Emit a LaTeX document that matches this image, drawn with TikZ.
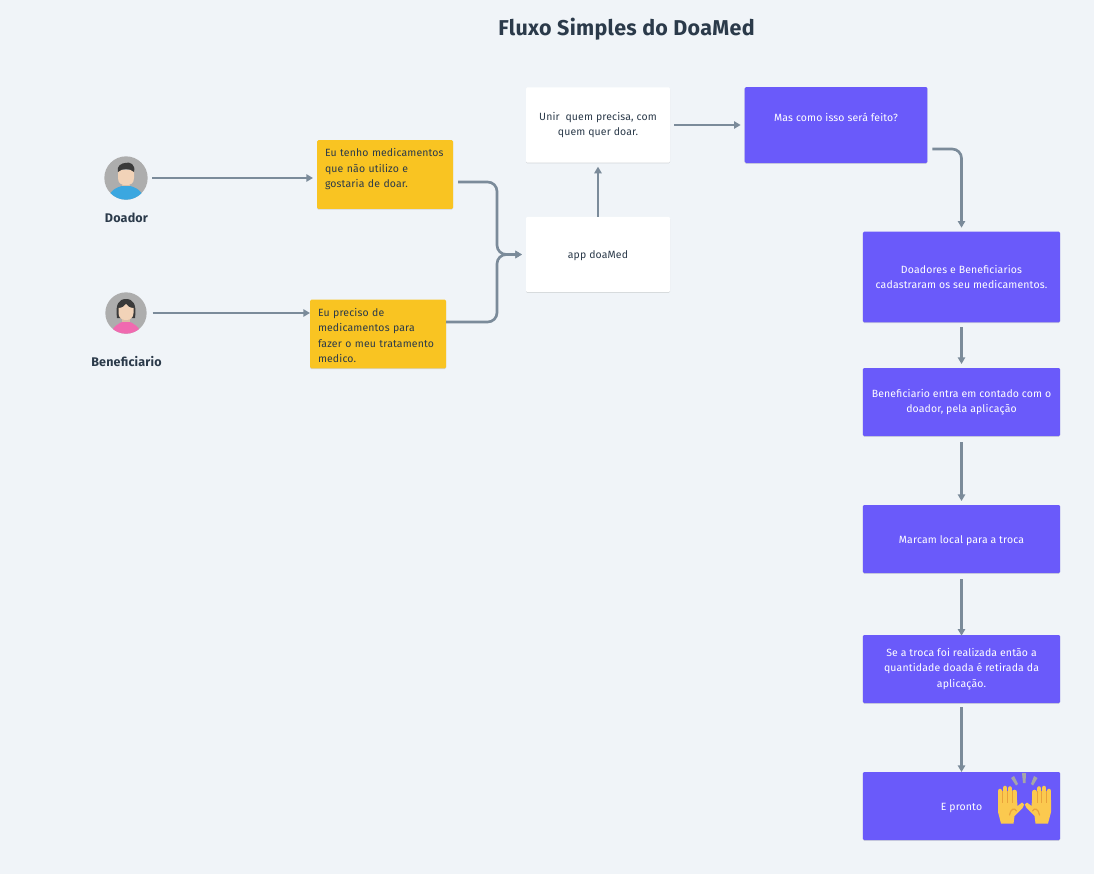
\documentclass[tikz,border=0pt]{standalone}
\usepackage{fontspec}
\setmainfont[LetterSpace=1.5]{Fira Sans}
\usetikzlibrary{arrows.meta,shadows,calc}
\definecolor{bgc}{HTML}{F0F4F8}
\definecolor{txtd}{HTML}{2B3A4A}
\definecolor{linec}{HTML}{7B8B9A}
\definecolor{purp}{HTML}{6A5AFA}
\definecolor{yel}{HTML}{F9C422}
\definecolor{hand}{HTML}{FBC94F}
\definecolor{handd}{HTML}{E9A23B}
\definecolor{skin}{HTML}{F2D3B8}
\definecolor{shirt}{HTML}{3BA7E0}
\definecolor{blouse}{HTML}{F06AB0}
\definecolor{hair}{HTML}{3A3A3A}
\tikzset{
  x=0.75pt,y=-0.75pt,
  px/.style={inner sep=0pt,outer sep=0pt},
  boxbase/.style={px,rectangle,rounded corners=1pt,align=center,font=\fontsize{7.85}{11.5}\selectfont,
    execute at begin node={\rule{0pt}{8.2pt}},
    drop shadow={shadow xshift=0pt,shadow yshift=-0.6pt,opacity=.12,fill=black}},
  purplebox/.style={boxbase,fill=purp,text=white,minimum width=148pt,minimum height=51pt},
  whitebox/.style={boxbase,fill=white,text=txtd,minimum width=108pt,minimum height=56.5pt},
  yellowbox/.style={boxbase,fill=yel,text=txtd,minimum width=102pt,minimum height=51.5pt,align=left,text width=90pt},
  conn/.style={draw=linec,line width=2pt,-{Triangle[length=5pt,width=5.5pt]},rounded corners=7pt},
  avatar/.style={px,circle,fill=black!32!white},
  who/.style={px,font=\fontsize{9.4}{10}\selectfont\bfseries,text=txtd},
}
\begin{document}
\begin{tikzpicture}
\useasboundingbox[fill=bgc] (0,0) rectangle (1094,874);
\node[px,font=\fontsize{16.1}{18}\selectfont\bfseries,text=txtd] (title) at (626.5,29) {Fluxo Simples do DoaMed};

% avatars
\node[avatar,minimum size=32.5pt] (doador) at (126,178) {};
\begin{scope}
  \clip (126,178) circle [radius=21.7];
  \fill[skin!90!black] (122,180) rectangle (130,189);
  \fill[shirt] (108,202) .. controls (108,190) and (118,187) .. (122,186) -- (130,186) .. controls (134,187) and (144,190) .. (144,202) -- cycle;
\end{scope}
\fill[skin] (118,170) -- (134,170) -- (134,178) .. controls (134,184) and (130,185) .. (126,185) .. controls (122,185) and (118,184) .. (118,178) -- cycle;
\fill[hair] (118,172) .. controls (116,166) and (122,163) .. (125,163) .. controls (130,161) and (136,165) .. (134,172) .. controls (130,168) and (122,168) .. (118,172) -- cycle;
\node[who] (ldoador) at (126.5,217.5) {Doador};

\node[avatar,minimum size=31pt] (benef) at (126,313) {};
\begin{scope}
  \clip (126,313) circle [radius=20.7];
  \fill[hair] (117,318) .. controls (115,304) and (119,299) .. (126,299) .. controls (133,299) and (137,304) .. (135,318) -- cycle;
  \fill[skin!90!black] (122,316) rectangle (130,324);
  \fill[blouse] (110,336) .. controls (112,326) and (120,323) .. (122,322) -- (130,322) .. controls (132,323) and (140,326) .. (142,336) -- cycle;
\end{scope}
\fill[skin] (118.5,308) .. controls (122,308) and (125,306) .. (126,304) .. controls (127,306) and (130,308) .. (133.5,308) -- (133.5,313) .. controls (133.5,318) and (130,320) .. (126,320) .. controls (122,320) and (118.5,318) .. (118.5,313) -- cycle;
\node[who] (lbenef) at (126.5,361.5) {Beneficiario};

% boxes
\node[yellowbox] (y1) at (385,174.5) {Eu tenho medicamentos\\que não utilizo e\\gostaria de doar.\\\mbox{}};
\node[yellowbox] (y2) at (378,334) {Eu preciso de\\medicamentos para\\fazer o meu tratamento\\medico.};
\node[whitebox] (app) at (598,254.5) {app doaMed};
\node[whitebox] (unir) at (598,125) {Unir\ \ quem precisa, com\\quem quer doar.};
\node[purplebox,minimum width=137pt,minimum height=57pt] (mas) at (836,125) {Mas como isso será feito?\\\mbox{}};
\node[purplebox,minimum height=68pt] (p1) at (961.5,277) {Doadores e Beneficiarios\\cadastraram os seu medicamentos.};
\node[purplebox] (p2) at (961.5,402) {Beneficiario entra em contado com o\\doador, pela aplicação};
\node[purplebox] (p3) at (961.5,539) {Marcam local para a troca};
\node[purplebox] (p4) at (961.5,669) {Se a troca foi realizada então a\\quantidade doada é retirada da\\aplicação.};
\node[purplebox] (p5) at (961.5,806) {E pronto};

% emoji hands
\foreach \s in {1,-1}{
\begin{scope}[shift={(1024.5,0)},xscale=\s]
  \fill[hand] (-26.5,800) -- (-26.5,812) -- (-23.5,823.5) -- (-11,823.5) -- (-10,816) -- (-2,808) -- (-0.3,804.5) -- (-2.5,802.5) -- (-7,806) -- (-8,794) -- (-24,794) -- cycle;
  \foreach \fx/\fy in {-24.3/791,-19.5/788,-14.5/788.5,-10/792}{
    \draw[hand,line width=3.4pt,line cap=round] (\fx,\fy) -- (\fx,806);
  }
  \draw[handd,line width=0.9pt,line cap=round] (-15,815) .. controls (-14,809) and (-10,807) .. (-8,811);
  \foreach \fx in {-22,-17,-12.3}{\draw[handd,line width=0.3pt] (\fx,791) -- (\fx,803);}
\end{scope}}
\fill[black!35] (1011,778) -- (1014,776) -- (1018,784) -- (1016,785.5) -- cycle;
\fill[black!35] (1022,773) -- (1026,773) -- (1025.5,783) -- (1023,783) -- cycle;
\fill[black!35] (1034,776) -- (1037.5,778) -- (1033,785.5) -- (1031,784) -- cycle;

% connector free ends
\coordinate (y1out) at ($(y1.east)+(5,7.5)$);
\coordinate (y2out) at ($(y2.east)+(0,-12)$);
\coordinate (jct) at (497,254.5);
\coordinate (masout) at ($(mas.east)+(5,24)$);

% connectors
\draw[conn,shorten <=3.5pt,shorten >=3pt] (doador.east) -- (doador.east -| y1.west);
\draw[conn,shorten <=4.5pt,shorten >=0pt] (benef.east) -- (benef.east -| y2.west);
\draw[conn,shorten >=3pt] (y1out) -- (y1out -| jct) -- (jct) -- (app.west);
\draw[conn,shorten >=3pt] (y2out) -- (y2out -| jct) -- (jct) -- (app.west);
\draw[conn,shorten >=3pt] (app.north) -- (unir.south);
\draw[conn,shorten <=3pt,shorten >=3pt] (unir.east) -- (mas.west);
\draw[conn,shorten >=3pt] (masout) -- (masout -| p1.north) -- (p1.north);
\draw[conn,shorten <=3.5pt,shorten >=3pt] (p1.south) -- (p2.north);
\draw[conn,shorten <=4.5pt,shorten >=3pt] (p2.south) -- (p3.north);
\draw[conn,shorten <=4.5pt,shorten >=-0.5pt] (p3.south) -- (p4.north);
\draw[conn,shorten <=3pt,shorten >=0pt] (p4.south) -- (p5.north);
\end{tikzpicture}
\end{document}
